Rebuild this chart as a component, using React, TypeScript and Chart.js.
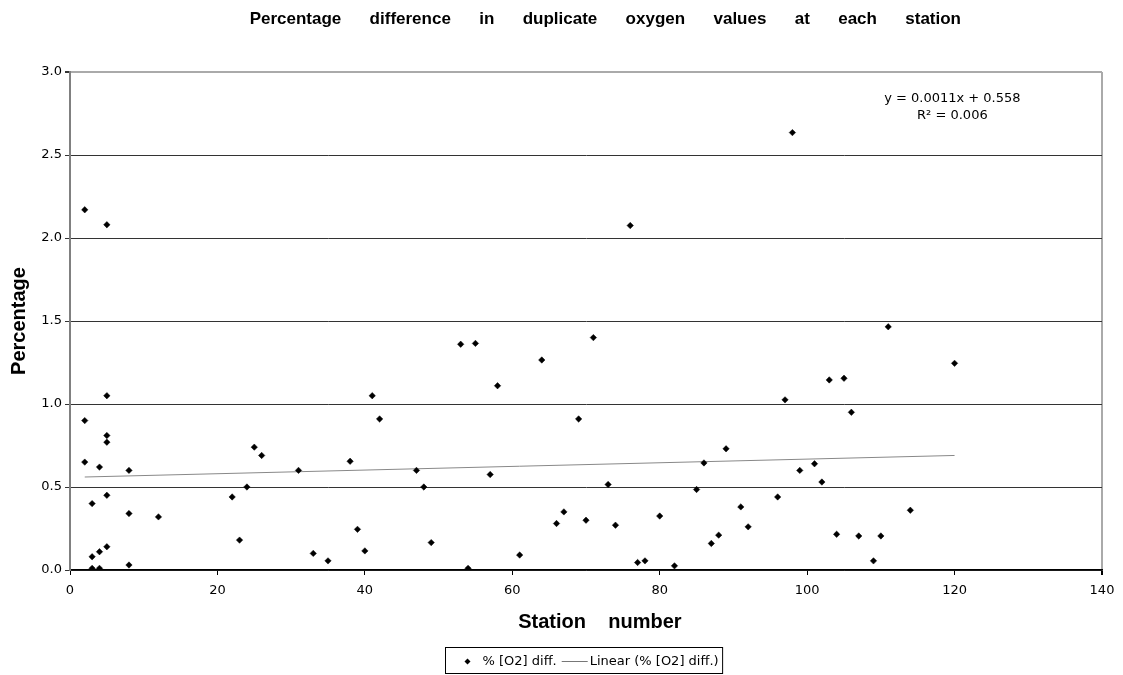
import React, { useEffect, useRef } from "react";
import { Chart, registerables } from "chart.js";

Chart.register(...registerables);

const chartTitle =
  "                       Percentage      difference      in      duplicate      oxygen      values      at      each      station";
const xAxisTitle = "     Station    number";
const yAxisTitle = "Percentage";
const seriesLabel = "% [O2] diff.";
const trendLabel = "Linear (% [O2] diff.)";
const equationText = "y = 0.0011x + 0.558";
const r2Text = "R² = 0.006";

const stations = [
  2, 2, 2, 3, 3, 3, 4, 4, 4, 5, 5, 5, 5, 5, 5, 8, 8, 8, 12, 22, 23, 24, 25, 26, 31, 33, 35, 38, 39, 40,
  41, 42, 47, 48, 49, 53, 54, 55, 57, 58, 61, 64, 66, 67, 69, 70, 71, 73, 74, 76, 77, 78, 80, 82, 85,
  86, 87, 88, 89, 91, 92, 96, 97, 98, 99, 101, 102, 103, 104, 105, 106, 107, 109, 110, 111, 114, 120,
];
const pctDiff = [
  2.17, 0.9, 0.65, 0.4, 0.08, 0.01, 0.62, 0.11, 0.01, 2.08, 1.05, 0.81, 0.77, 0.45, 0.14, 0.6, 0.34,
  0.03, 0.32, 0.44, 0.18, 0.5, 0.74, 0.69, 0.6, 0.1, 0.055, 0.655, 0.245, 0.115, 1.05, 0.91, 0.6, 0.5,
  0.165, 1.36, 0.01, 1.365, 0.575, 1.11, 0.09, 1.265, 0.28, 0.35, 0.91, 0.3, 1.4, 0.515, 0.27, 2.075,
  0.045, 0.055, 0.325, 0.025, 0.485, 0.645, 0.16, 0.21, 0.73, 0.38, 0.26, 0.44, 1.025, 2.635, 0.6, 0.64,
  0.53, 1.145, 0.215, 1.155, 0.95, 0.205, 0.055, 0.205, 1.465, 0.36, 1.245,
];
const trendX = [2, 120];
const trendY = [0.5602, 0.69];
const equationPos = { x: 119.7, y1: 2.84, y2: 2.735 };

const FONT = "'DejaVu Sans', 'Noto Sans', sans-serif";
const BOLD = "'Liberation Sans', Arial, sans-serif";

export default function App() {
  const ref = useRef<HTMLCanvasElement | null>(null);

  useEffect(() => {
    if (!ref.current) return;

    const overlay = {
      id: "overlay",
      afterDraw(chart: any) {
        const { ctx, chartArea, scales } = chart;
        ctx.save();
        // regression equation
        ctx.fillStyle = "#000";
        ctx.font = `13px ${FONT}`;
        ctx.textAlign = "center";
        ctx.textBaseline = "middle";
        const ex = scales.x.getPixelForValue(equationPos.x);
        ctx.fillText(equationText, ex, scales.y.getPixelForValue(equationPos.y1));
        ctx.fillText(r2Text, ex, scales.y.getPixelForValue(equationPos.y2));

        // legend
        ctx.textAlign = "left";
        const w1 = ctx.measureText(seriesLabel).width;
        const w2 = ctx.measureText(trendLabel).width;
        const total = 37 + w1 + 5 + 26 + 2 + w2 + 4;
        const cx = (chartArea.left + chartArea.right) / 2;
        const left = Math.round(cx - total / 2) - 1.5;
        const top = Math.round(chartArea.bottom + 77) + 0.5;
        const h = 26;
        ctx.strokeStyle = "#000";
        ctx.lineWidth = 1;
        ctx.strokeRect(left, top, total, h);
        const my = top + h / 2 + 1;
        // marker
        ctx.beginPath();
        const mx = left + 22;
        ctx.moveTo(mx, my - 3);
        ctx.lineTo(mx + 3, my);
        ctx.lineTo(mx, my + 3);
        ctx.lineTo(mx - 3, my);
        ctx.closePath();
        ctx.fillStyle = "#000";
        ctx.fill();
        ctx.fillText(seriesLabel, left + 37, my);
        const ls = left + 37 + w1 + 5;
        ctx.beginPath();
        ctx.strokeStyle = "#777";
        ctx.moveTo(ls, my);
        ctx.lineTo(ls + 26, my);
        ctx.stroke();
        ctx.fillText(trendLabel, ls + 28, my);
        ctx.restore();
      },
    };

    const chart = new Chart(ref.current, {
      type: "scatter",
      data: {
        datasets: [
          {
            label: seriesLabel,
            data: stations.map((s, i) => ({ x: s, y: pctDiff[i] })),
            pointStyle: "rectRot",
            pointRadius: 3.2,
            backgroundColor: "#000",
            borderColor: "#000",
            borderWidth: 0.5,
          },
          {
            label: trendLabel,
            type: "line",
            data: trendX.map((s, i) => ({ x: s, y: trendY[i] })),
            showLine: true,
            borderColor: "#888",
            borderWidth: 1,
            pointRadius: 0,
            fill: false,
          } as any,
        ],
      },
      options: {
        responsive: false,
        animation: false,
        devicePixelRatio: 1,
        layout: { padding: { left: 0, right: 21, top: 0, bottom: 41 } },
        plugins: {
          legend: { display: false },
          tooltip: { enabled: false },
          title: {
            display: true,
            text: chartTitle,
            color: "#000",
            font: { family: BOLD, size: 17, weight: "bold" },
            padding: { top: 9.5, bottom: 42.1 },
          },
        },
        scales: {
          x: {
            type: "linear",
            min: 0,
            max: 140,
            ticks: { stepSize: 20, color: "#000", font: { family: FONT, size: 13 }, padding: 8 },
            grid: {
              color: (c: any) => (c.tick && c.tick.value === 140 ? "#aaaaaa" : "rgba(0,0,0,0)"),
              lineWidth: (c: any) => (c.tick && c.tick.value === 140 ? 2 : 1),
              tickColor: "#000",
              tickLength: 5,
            },
            border: { color: "#000", width: 1.5 },
            title: {
              display: true,
              text: xAxisTitle,
              color: "#000",
              font: { family: BOLD, size: 20, weight: "bold" },
              padding: { top: 0, bottom: 0 },
            },
            afterFit: (s: any) => {
              s.height = 64;
            },
          },
          y: {
            min: 0,
            max: 3,
            ticks: {
              stepSize: 0.5,
              color: "#000",
              font: { family: FONT, size: 13 },
              padding: 3,
              callback: (v: any) => Number(v).toFixed(1),
            },
            grid: {
              color: (c: any) => (c.tick && c.tick.value === 3 ? "#aaaaaa" : "#333333"),
              lineWidth: (c: any) => (c.tick && c.tick.value === 3 ? 2 : 1),
              tickColor: "#333",
              tickLength: 5,
            },
            border: { color: "#808080", width: 2 },
            title: {
              display: true,
              text: yAxisTitle,
              color: "#000",
              font: { family: BOLD, size: 20, weight: "bold" },
              padding: { top: 7, bottom: 0 },
            },
            afterFit: (s: any) => {
              s.width = 70;
            },
          },
        },
      },
      plugins: [overlay],
    });

    return () => chart.destroy();
  }, []);

  return (
    <div style={{ position: "absolute", left: 0, top: 0, width: 1123, height: 675, background: "#fff" }}>
      <canvas ref={ref} width={1123} height={675} style={{ width: 1123, height: 675 }} />
    </div>
  );
}
